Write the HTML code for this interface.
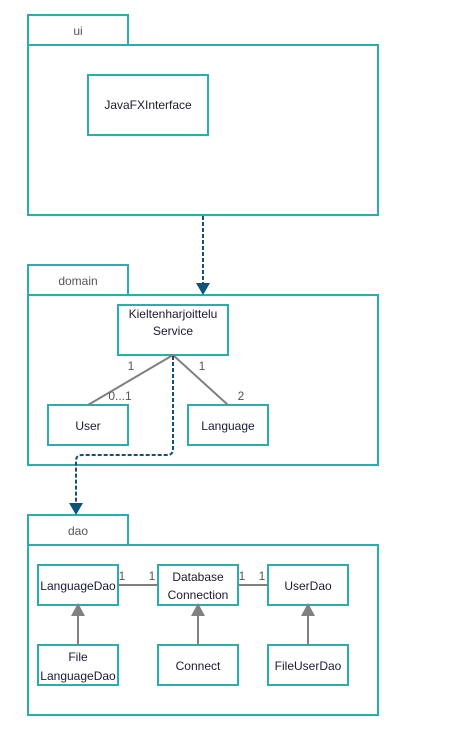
<!DOCTYPE html>
<html><head><style>body{margin:0;background:#fff}</style></head><body>
<svg width="467" height="751" xmlns="http://www.w3.org/2000/svg" font-family="Liberation Sans, sans-serif" font-size="12">
<g fill="#fff" stroke="#2aaeab" stroke-width="2">
<rect x="28" y="15" width="100" height="30"/><rect x="28" y="45" width="350" height="170"/>
<rect x="88" y="75" width="120" height="60"/>
<rect x="28" y="265" width="100" height="30"/><rect x="28" y="295" width="350" height="170"/>
<rect x="118" y="305" width="110" height="50"/>
<rect x="48" y="405" width="80" height="40"/><rect x="188" y="405" width="80" height="40"/>
<rect x="28" y="515" width="100" height="30"/><rect x="28" y="545" width="350" height="170"/>
<rect x="38" y="565" width="80" height="40"/><rect x="158" y="565" width="80" height="40"/><rect x="268" y="565" width="80" height="40"/>
<rect x="38" y="645" width="80" height="40"/><rect x="158" y="645" width="80" height="40"/><rect x="268" y="645" width="80" height="40"/>
</g>
<g stroke="#808080" stroke-width="2" fill="none">
<path d="M173 355L88 405M173 355L228 405"/>
<path d="M118 585H158M238 585H268"/>
<path d="M78 645V615M198 645V615M308 645V615"/>
</g>
<g fill="#808080"><path d="M78 603l-7 13h14zM198 603l-7 13h14zM308 603l-7 13h14z"/></g>
<g stroke="#10527a" stroke-width="2" fill="none" stroke-dasharray="4,2">
<path d="M203 216V285"/>
<path d="M173 356V449q0 6-6 6H82q-6 0-6 6V505"/>
</g>
<g fill="#10527a"><path d="M196 283h14l-7 12zM69 503h14l-7 12z"/></g>
<g fill="#555" text-anchor="middle">
<text x="78" y="35">ui</text><text x="78" y="285">domain</text><text x="78" y="535">dao</text>
<text x="131" y="370">1</text><text x="120" y="400">0...1</text><text x="202" y="370">1</text><text x="241" y="400">2</text>
<text x="122" y="580">1</text><text x="152" y="580">1</text><text x="242" y="580">1</text><text x="262" y="580">1</text>
</g>
<g fill="#1a1a33" text-anchor="middle">
<text x="148" y="109">JavaFXInterface</text>
<text x="173" y="318">Kieltenharjoittelu</text><text x="173" y="335">Service</text>
<text x="88" y="430">User</text><text x="228" y="430">Language</text>
<text x="78" y="590">LanguageDao</text>
<text x="198" y="581">Database</text><text x="198" y="599">Connection</text>
<text x="308" y="590">UserDao</text>
<text x="78" y="661">File</text><text x="78" y="680">LanguageDao</text>
<text x="198" y="670">Connect</text><text x="308" y="670">FileUserDao</text>
</g>
</svg>
</body></html>
